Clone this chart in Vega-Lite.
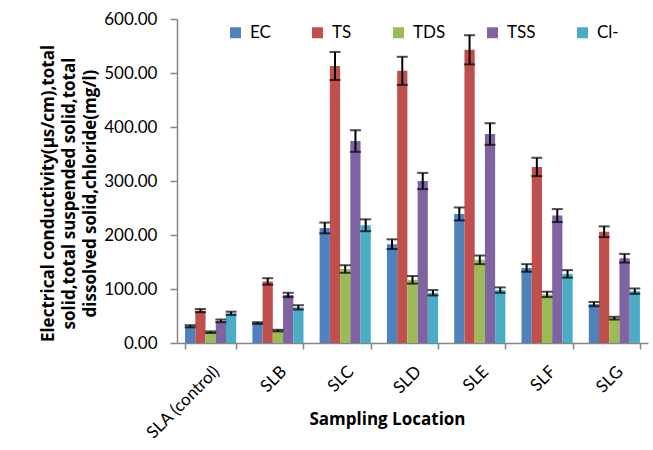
{
  "$schema": "https://vega.github.io/schema/vega-lite/v6.json",
  "width": 471,
  "height": 324,
  "autosize": {"type": "none"},
  "padding": {"left": 177, "top": 19, "right": 5, "bottom": 107},
  "background": "white",
  "config": {
    "view": {"stroke": null},
    "font": "Lato",
    "axis": {"labelFont": "Lato", "titleFont": "Open Sans", "labelColor": "#000000", "titleColor": "#000000", "domainColor": "#868686", "tickColor": "#868686", "domainWidth": 1.5, "tickWidth": 1.5, "grid": false}
  },
  "data": {
    "values": [
      {"loc": "SLA (control)", "param": "EC", "value": 31, "err": 2},
      {"loc": "SLA (control)", "param": "TS", "value": 60, "err": 3},
      {"loc": "SLA (control)", "param": "TDS", "value": 20, "err": 1.5},
      {"loc": "SLA (control)", "param": "TSS", "value": 41, "err": 2.5},
      {"loc": "SLA (control)", "param": "Cl-", "value": 55, "err": 3},
      {"loc": "SLB", "param": "EC", "value": 37, "err": 1.5},
      {"loc": "SLB", "param": "TS", "value": 114, "err": 6},
      {"loc": "SLB", "param": "TDS", "value": 23, "err": 1.5},
      {"loc": "SLB", "param": "TSS", "value": 89, "err": 4},
      {"loc": "SLB", "param": "Cl-", "value": 66, "err": 4},
      {"loc": "SLC", "param": "EC", "value": 213, "err": 10},
      {"loc": "SLC", "param": "TS", "value": 513, "err": 26},
      {"loc": "SLC", "param": "TDS", "value": 137, "err": 7},
      {"loc": "SLC", "param": "TSS", "value": 374, "err": 20},
      {"loc": "SLC", "param": "Cl-", "value": 218, "err": 11},
      {"loc": "SLD", "param": "EC", "value": 183, "err": 9},
      {"loc": "SLD", "param": "TS", "value": 504, "err": 26},
      {"loc": "SLD", "param": "TDS", "value": 117, "err": 7},
      {"loc": "SLD", "param": "TSS", "value": 300, "err": 15},
      {"loc": "SLD", "param": "Cl-", "value": 93, "err": 5},
      {"loc": "SLE", "param": "EC", "value": 239, "err": 12},
      {"loc": "SLE", "param": "TS", "value": 543, "err": 27},
      {"loc": "SLE", "param": "TDS", "value": 154, "err": 8},
      {"loc": "SLE", "param": "TSS", "value": 387, "err": 20},
      {"loc": "SLE", "param": "Cl-", "value": 98, "err": 5},
      {"loc": "SLF", "param": "EC", "value": 139, "err": 7},
      {"loc": "SLF", "param": "TS", "value": 326, "err": 17},
      {"loc": "SLF", "param": "TDS", "value": 90, "err": 5},
      {"loc": "SLF", "param": "TSS", "value": 236, "err": 12},
      {"loc": "SLF", "param": "Cl-", "value": 128, "err": 7},
      {"loc": "SLG", "param": "EC", "value": 72, "err": 4},
      {"loc": "SLG", "param": "TS", "value": 206, "err": 10},
      {"loc": "SLG", "param": "TDS", "value": 46, "err": 2.5},
      {"loc": "SLG", "param": "TSS", "value": 157, "err": 8},
      {"loc": "SLG", "param": "Cl-", "value": 96, "err": 5}
    ]
  },
  "encoding": {
    "x": {
      "field": "loc", "type": "nominal", "sort": null,
      "scale": {"paddingInner": 0.24, "paddingOuter": 0.12},
      "axis": {
        "title": "Sampling Location", "titleFontSize": 17, "titleFontWeight": "bold",
        "titleX": 210, "titleY": 81, "titleBaseline": "alphabetic", "titleAlign": "center",
        "labelAngle": -45, "labelFontSize": 17, "labelPadding": 14, "tickSize": 6, "tickBand": "extent"
      }
    },
    "xOffset": {"field": "param", "type": "nominal", "sort": ["EC", "TS", "TDS", "TSS", "Cl-"], "scale": {"paddingInner": 0, "paddingOuter": 0}},
    "y": {
      "field": "value", "type": "quantitative",
      "scale": {"domain": [0, 600], "nice": false},
      "axis": {
        "title": ["Electrical conductivity(μs/cm),total", "solid,total suspended solid,total", "dissolved solid,chloride(mg/l)"],
        "titleFontSize": 17, "titleFontWeight": "bold", "titleLineHeight": 21,
        "titleX": -129, "titleY": 174, "titleBaseline": "middle", "titleAngle": -90, "titleAlign": "center",
        "values": [0, 100, 200, 300, 400, 500, 600], "format": ".2f",
        "labelFontSize": 17, "labelPadding": 13, "tickSize": 7
      }
    }
  },
  "layer": [
    {
      "mark": {"type": "bar"},
      "encoding": {
        "color": {
          "field": "param", "type": "nominal",
          "sort": ["EC", "TS", "TDS", "TSS", "Cl-"],
          "scale": {"domain": ["EC", "TS", "TDS", "TSS", "Cl-"], "range": ["#4F81BD", "#C0504D", "#9BBB59", "#8064A2", "#4BACC6"]},
          "legend": {
            "title": null, "orient": "none", "legendX": 50, "legendY": 5, "direction": "horizontal", "columns": 5,
            "symbolType": "square", "symbolSize": 121, "symbolStrokeWidth": 0, "labelFontSize": 17, "labelFont": "Lato",
            "labelColor": "#000000", "labelOffset": 6, "columnPadding": 38, "padding": 0
          }
        }
      }
    },
    {
      "mark": {"type": "errorbar", "ticks": {"size": 11, "thickness": 2, "color": "black"}, "rule": {"strokeWidth": 2, "color": "black"}},
      "encoding": {
        "yError": {"field": "err"}
      }
    }
  ]
}
